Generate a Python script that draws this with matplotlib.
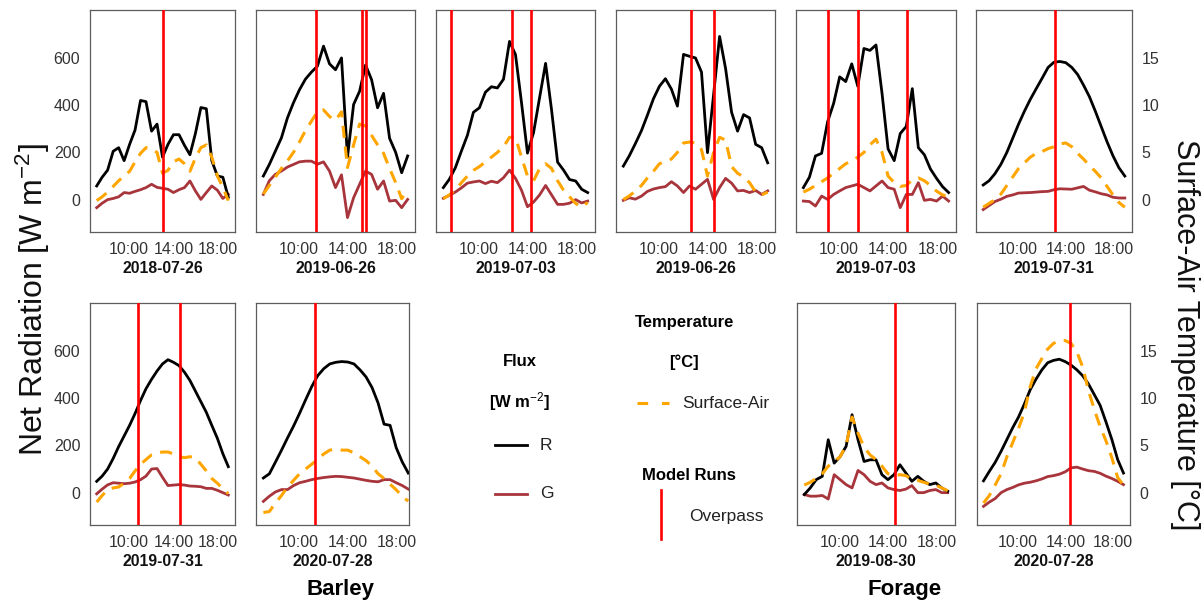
import matplotlib
matplotlib.use("Agg")
import matplotlib.pyplot as plt
from matplotlib.lines import Line2D

plt.rcParams['font.family'] = ['Liberation Sans', 'DejaVu Sans']
plt.rcParams['mathtext.fontset'] = 'custom'
plt.rcParams['mathtext.rm'] = 'Liberation Sans'
plt.rcParams['mathtext.it'] = 'Liberation Sans:italic'
plt.rcParams['mathtext.bf'] = 'Liberation Sans:bold'

# ---------------- data ----------------
HOURS = [7.10, 7.59, 8.08, 8.58, 9.07, 9.56, 10.05, 10.54, 11.03, 11.52, 12.02, 12.51,
         13.00, 13.49, 13.98, 14.48, 14.97, 15.46, 15.95, 16.44, 16.93, 17.42, 17.92,
         18.41, 18.90]

DATES = ["2018-07-26", "2019-06-26", "2019-07-03", "2019-06-26", "2019-07-03", "2019-07-31",
         "2019-07-31", "2020-07-28", "2019-08-30", "2020-07-28"]

# Net radiation R [W m-2]
R1 = [58, 95, 125, 205, 220, 165, 234, 295, 420, 415, 290, 320, 180, 234, 275, 275, 230, 190, 280, 390, 385, 165, 100, 95, 10]
R2 = [100, 149, 205, 262, 346, 410, 465, 510, 540, 565, 650, 575, 550, 600, 180, 403, 459, 570, 508, 389, 450, 260, 200, 114, 185]
R3 = [51, 86, 135, 206, 273, 370, 389, 455, 478, 473, 510, 670, 614, 411, 197, 285, 432, 577, 379, 159, 125, 85, 79, 44, 30]
R4 = [142, 186, 237, 292, 358, 427, 480, 512, 468, 396, 615, 607, 600, 540, 199, 445, 691, 555, 370, 290, 360, 346, 234, 220, 156]
R5 = [51, 95, 185, 196, 330, 408, 520, 500, 575, 480, 640, 632, 655, 450, 215, 165, 280, 310, 470, 220, 190, 130, 90, 55, 30]
R6 = [62, 80, 110, 150, 200, 260, 320, 375, 425, 470, 515, 560, 582, 585, 580, 560, 530, 485, 436, 375, 310, 245, 185, 135, 100]
R7 = [48, 70, 100, 145, 195, 240, 285, 335, 390, 440, 480, 515, 545, 563, 552, 538, 510, 475, 430, 385, 340, 285, 230, 165, 110]
R8 = [62, 80, 129, 180, 232, 282, 336, 393, 448, 495, 525, 545, 552, 555, 553, 545, 520, 490, 445, 380, 290, 285, 190, 130, 83]
R9 = [-8, 20, 55, 69, 224, 125, 153, 196, 330, 224, 132, 139, 139, 76, 55, 76, 118, 83, 48, 69, 48, 34, 41, 20, 6]
R10 = [50, 90, 128, 175, 225, 275, 320, 375, 435, 480, 520, 550, 560, 565, 555, 540, 520, 495, 460, 415, 370, 300, 225, 140, 83]

# Ground heat flux G [W m-2]
G1 = [-34, -15, 0, 5, 12, 30, 27, 35, 42, 51, 65, 52, 48, 44, 30, 42, 51, 79, 37, 1, 30, 58, 40, 5, 22]
G2 = [22, 80, 107, 121, 138, 149, 160, 163, 163, 150, 160, 121, 51, 105, -76, 8, 65, 121, 107, 44, 79, -6, -3, -34, 1]
G3 = [6, 18, 32, 50, 70, 75, 79, 68, 78, 72, 93, 125, 90, 40, -30, -10, 20, 60, 20, -20, -20, -15, 0, -14, -6]
G4 = [-3, 8, 2, 15, 35, 45, 51, 55, 76, 58, 30, 58, 44, 65, 86, 1, 51, 90, 70, 37, 39, 30, 39, 22, 37]
G5 = [-6, -8, -27, 15, 1, 22, 37, 51, 58, 65, 51, 37, 58, 79, 51, 44, -34, 22, 22, 72, -3, 1, -6, 15, -6]
G6 = [-42, -25, -8, 2, 14, 20, 28, 29, 30, 32, 34, 35, 42, 46, 45, 44, 50, 56, 40, 33, 25, 20, 10, 7, 7]
G7 = [-5, 15, 33, 42, 40, 38, 40, 45, 55, 70, 100, 102, 65, 30, 32, 34, 32, 28, 27, 25, 18, 18, 10, 0, -10]
G8 = [-37, -15, 3, 13, 13, 30, 42, 48, 55, 60, 64, 67, 69, 68, 65, 62, 57, 52, 48, 46, 55, 55, 42, 30, 15]
G9 = [-8, -15, -15, -12, -27, 76, 55, 34, 20, 94, 76, 48, 34, 41, 20, 13, 9, 15, 30, 0, 0, 9, 13, 0, 0]
G10 = [-58, -40, -25, 0, 13, 22, 33, 40, 44, 50, 58, 68, 72, 78, 88, 105, 108, 100, 93, 90, 82, 70, 60, 48, 34]

# Surface-air temperature difference [degC]
T1 = [-0.1, 0.3, 0.8, 1.4, 2.0, 2.5, 3.0, 4.0, 4.9, 5.5, 5.4, 5.0, 2.8, 3.1, 4.0, 4.3, 3.8, 3.0, 4.4, 5.5, 5.8, 4.5, 2.5, 1.3, -0.1]
T2 = [0.6, 1.5, 2.4, 3.3, 4.1, 5.0, 6.1, 7.3, 8.3, 9.3, 9.5, 8.8, 8.4, 9.3, 3.4, 5.8, 8.0, 7.8, 6.8, 5.8, 4.9, 3.3, 1.8, 0.1, 1.1]
T3 = [0.1, 0.5, 1.0, 1.8, 2.5, 3.1, 3.5, 4.0, 4.5, 5.0, 5.6, 6.6, 6.6, 4.5, 2.5, 2.0, 3.3, 3.8, 3.3, 2.0, 1.0, 0.3, -0.4, -0.8, -0.3]
T4 = [0.0, 0.4, 0.9, 1.5, 2.3, 3.0, 3.8, 4.0, 4.3, 5.0, 6.0, 6.1, 6.0, 5.3, 2.5, 5.0, 6.6, 6.3, 3.5, 2.8, 2.4, 1.8, 0.8, 0.5, 0.8]
T5 = [0.8, 1.1, 1.5, 1.9, 2.3, 2.8, 3.3, 3.8, 4.1, 4.5, 5.0, 5.8, 6.4, 5.0, 2.5, 1.8, 1.4, 1.5, 2.1, 2.3, 2.0, 1.5, 0.9, 0.5, 0.3]
T6 = [-0.8, -0.4, 0.0, 0.6, 1.5, 2.4, 3.3, 3.9, 4.5, 4.9, 5.1, 5.4, 5.6, 5.9, 6.0, 5.6, 4.9, 4.3, 3.6, 3.0, 2.3, 1.4, 0.5, -0.3, -0.8]
T7 = [-1.0, -0.3, 0.3, 0.5, 0.6, 1.0, 1.5, 2.3, 3.0, 3.5, 4.0, 4.2, 4.3, 4.3, 4.1, 3.8, 3.7, 3.8, 3.7, 3.0, 2.3, 1.5, 1.0, 0.4, -0.1]
T8 = [-2.1, -2.0, -1.1, -0.3, 0.6, 1.3, 2.0, 2.5, 3.0, 3.5, 4.1, 4.5, 4.6, 4.5, 4.5, 4.2, 3.8, 3.4, 2.8, 2.0, 1.5, 0.9, 0.3, -0.4, -0.9]
T9 = [0.8, 1.1, 1.5, 2.0, 2.8, 3.3, 3.8, 5.0, 8.0, 6.3, 4.8, 4.0, 3.5, 2.8, 2.0, 1.8, 1.9, 1.8, 1.4, 1.3, 1.1, 0.9, 0.8, 0.5, 0.2]
T10 = [-1.1, -0.3, 0.8, 2.0, 3.8, 5.3, 6.8, 8.5, 11.2, 13.1, 14.2, 15.2, 15.8, 16.1, 16.1, 15.8, 14.9, 13.3, 10.8, 8.8, 7.0, 5.5, 3.7, 1.6, 0.8]

# Overpass (model run) times [decimal hours]
OVERPASS = [[13.05], [11.4, 15.14, 15.47], [7.73, 12.69, 14.24], [12.6, 14.5],
            [9.08, 11.5, 15.5], [13.1], [10.83, 14.6], [11.3], [14.57], [14.39]]

X_TICKS = [10, 14, 18]
X_TICK_LABELS = ["10:00", "14:00", "18:00"]
Y_TICKS = [0, 200, 400, 600]
T_TICKS = [0, 5, 10, 15]

R_ALL = [R1, R2, R3, R4, R5, R6, R7, R8, R9, R10]
G_ALL = [G1, G2, G3, G4, G5, G6, G7, G8, G9, G10]
T_ALL = [T1, T2, T3, T4, T5, T6, T7, T8, T9, T10]

# ---------------- layout (pixel boxes) ----------------
W, H = 1204, 601
BOXES = [(90, 10, 235, 232), (256, 10, 415, 232), (436, 10, 595, 232), (616, 10, 775, 232),
         (796, 10, 956, 232), (976, 10, 1132, 232),
         (90, 303, 235, 525), (256, 303, 409, 525), (797, 303, 955, 525), (977, 303, 1130, 525)]
XLIMS = [(6.5, 19.5)] * 7 + [(6.5, 18.96), (6.5, 19.5), (6.55, 19.45)]
YLIM = (-137, 803)
SCALE = 40.0  # W m-2 per degC on the twin axis

C_R = "black"
C_G = "#A8343C"
C_T = "#FFA500"
C_OV = "#FF0000"
C_FRAME = "#5c5c5c"
C_TXT = "#333333"

fig = plt.figure(figsize=(W / 100, H / 100), dpi=100)

for i, (x0, y0, x1, y1) in enumerate(BOXES):
    ax = fig.add_axes([x0 / W, 1 - y1 / H, (x1 - x0) / W, (y1 - y0) / H])
    ax.plot(HOURS, R_ALL[i], color=C_R, lw=2.0, zorder=3)
    ax.plot(HOURS, G_ALL[i], color=C_G, lw=2.0, zorder=2)
    ax.set_xlim(*XLIMS[i])
    ax.set_ylim(*YLIM)
    ax.set_xticks(X_TICKS)
    ax.set_xticklabels(X_TICK_LABELS)
    ax.set_yticks(Y_TICKS)
    ax.tick_params(axis='both', length=0, labelsize=11.5, colors=C_TXT, pad=7)
    if i not in (0, 6):
        ax.set_yticklabels([])
    for sp in ax.spines.values():
        sp.set_color(C_FRAME)
        sp.set_linewidth(0.9)

    ax2 = ax.twinx()
    ax2.set_ylim(YLIM[0] / SCALE, YLIM[1] / SCALE)
    ax2.plot(HOURS, T_ALL[i], color=C_T, lw=2.2, dashes=(4.0, 2.8))
    for t in OVERPASS[i]:
        ax2.axvline(t, color=C_OV, lw=1.9)
    ax2.set_xlim(*XLIMS[i])
    for sp in ax2.spines.values():
        sp.set_visible(False)
    ax2.set_yticks(T_TICKS)
    ax2.tick_params(axis='y', length=0, labelsize=11.5, colors=C_TXT, pad=7)
    if i not in (5, 9):
        ax2.set_yticklabels([])

    fig.text((x0 + x1) / 2 / W, 1 - (y1 + 36) / H, DATES[i], ha='center', va='center',
             fontsize=11.3, fontweight='bold', color='#111111')

# group labels
fig.text(340 / W, 1 - 590 / H, "Barley", ha='center', va='center', fontsize=16, fontweight='bold')
fig.text(905 / W, 1 - 590 / H, "Forage", ha='center', va='center', fontsize=16, fontweight='bold')

# axis titles
fig.text(33 / W, 1 - 300 / H, r"Net Radiation [W m$^{-2}$]", rotation=90, ha='center', va='center',
         fontsize=23, color='#111111')
fig.text(1185 / W, 1 - 335 / H, "Surface-Air Temperature [°C]", rotation=270, ha='center', va='center',
         fontsize=22, color='#111111')

# legend
def fx(px):
    return px / W

def fy(py):
    return 1 - py / H

fig.text(fx(520), fy(362), "Flux", ha='center', va='center', fontsize=12, fontweight='bold')
fig.text(fx(520), fy(402), r"[W m$^{-2}$]", ha='center', va='center', fontsize=12, fontweight='bold')
fig.add_artist(Line2D([fx(495), fx(527)], [fy(445), fy(445)], color=C_R, lw=2.0))
fig.text(fx(540), fy(445), "R", ha='left', va='center', fontsize=12.5, color='#222222')
fig.add_artist(Line2D([fx(495), fx(527)], [fy(494), fy(494)], color=C_G, lw=2.0))
fig.text(fx(540), fy(494), "G", ha='left', va='center', fontsize=12.5, color='#222222')

fig.text(fx(685), fy(322), "Temperature", ha='center', va='center', fontsize=12, fontweight='bold')
fig.text(fx(684), fy(362), "[°C]", ha='center', va='center', fontsize=12, fontweight='bold')
fig.add_artist(Line2D([fx(637), fx(669)], [fy(403), fy(403)], color=C_T, lw=2.2, dashes=(3.5, 4.5)))
fig.text(fx(682), fy(403), "Surface-Air", ha='left', va='center', fontsize=12.5, color='#222222')

fig.text(fx(689), fy(475), "Model Runs", ha='center', va='center', fontsize=12, fontweight='bold')
fig.add_artist(Line2D([fx(661), fx(661)], [fy(490), fy(539)], color=C_OV, lw=1.9))
fig.text(fx(689), fy(517), "Overpass", ha='left', va='center', fontsize=12.5, color='#222222')

fig.savefig("out.png", dpi=100)
